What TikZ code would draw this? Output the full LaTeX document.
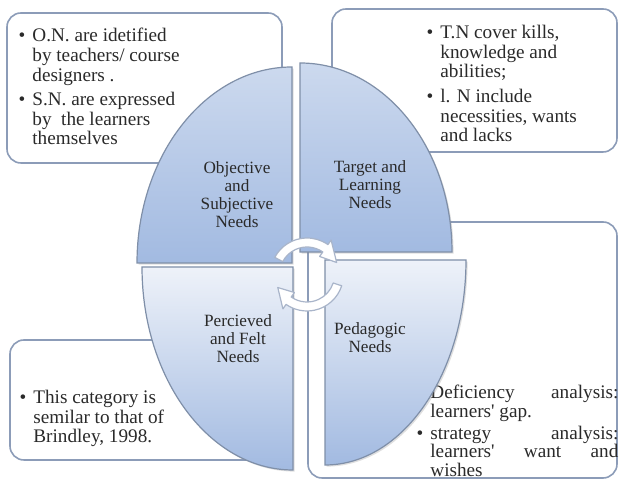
\documentclass[tikz,border=0pt]{standalone}
\usepackage{fontspec}
\setmainfont{Liberation Serif}[Ligatures=TeXOff]
\usetikzlibrary{calc}
\usetikzlibrary{shadows}
\definecolor{boxline}{HTML}{8C9CB8}
\definecolor{pieline}{HTML}{7F8FA8}
\definecolor{pietop}{HTML}{CCD9EE}
\definecolor{piebottom}{HTML}{A2BAE1}
\definecolor{pielight}{HTML}{EEF2F9}
\definecolor{arrowline}{HTML}{A9B5CA}
\definecolor{txt}{HTML}{2A2A2A}
\newcommand{\bpoint}{\leavevmode\llap{\textbullet\hspace{3.5pt}}}

\begin{document}
\begin{tikzpicture}[x=0.5pt,y=0.5pt]
\tikzstyle{notebox}=[draw=boxline, line width=0.8pt, rounded corners=7pt, fill=white]
\tikzstyle{notetext}=[inner sep=0pt, anchor=north west, align=left, text=txt, font=\fontsize{9.6}{9.8}\selectfont]
\tikzstyle{piece}=[draw=pieline, line width=0.6pt, drop shadow={shadow xshift=0.8pt, shadow yshift=-0.8pt, opacity=0.25}]
\tikzstyle{pietext}=[align=center, text=txt, font=\fontsize{8.6}{9}\selectfont]
\tikzstyle{cycarrow}=[draw=arrowline, fill=white, line width=0.6pt, line join=round]
\useasboundingbox (0,0) rectangle (620,480);
\draw [notebox] (7,317) rectangle (282,467);
\draw [notebox] (332,328) rectangle (617,471);
\draw [notebox] (10,20) rectangle (285,140);
\draw [notebox] (308,2) rectangle (617,258);
\node (onote) [notetext] at (32,452) {\bpoint O.N. are idetified\\ by teachers/ course\\ designers .\\[2.5pt] \bpoint S.N. are expressed\\ by\ \ the learners\\ themselves};
\node (tnote) [notetext] at (440,455) {\bpoint T.N cover kills,\\ knowledge and\\ abilities;\\[2.5pt] \bpoint l. N include\\ necessities, wants\\ and lacks};
\node (fnote) [notetext] at (33,90) {\bpoint This category is\\ semilar to that of\\ Brindley, 1998.};
\node (pnote) [notetext, font=\fontsize{9.6}{9.3}\selectfont] at (430,95) {\bpoint\makebox[94pt][s]{Deficiency analysis:}\\ learners' gap.\\[1.5pt] \bpoint\makebox[94pt][s]{strategy analysis:}\\ \makebox[94pt][s]{learners' want and}\\ wishes};
\path [piece, top color=pietop, bottom color=piebottom] (292,217) -- (137,217) arc[start angle=180, end angle=90, x radius=155, y radius=196] -- cycle;
\path [piece, top color=pietop, bottom color=piebottom] (300,228) -- (300,417) arc[start angle=90, end angle=0, x radius=152, y radius=189] -- cycle;
\path [piece, top color=pielight, bottom color=piebottom] (293,213) -- (142,213) arc[start angle=180, end angle=270, x radius=151, y radius=203] -- cycle;
\path [piece, top color=pielight, bottom color=piebottom] (325,220) -- (466,220) arc[start angle=0, end angle=-90, x radius=141, y radius=205] -- cycle;
\node (objn) [pietext] at (237,285) {Objective\\ and\\ Subjective\\ Needs};
\node (targn) [pietext] at (370,295) {Target and\\ Learning\\ Needs};
\node (percn) [pietext] at (238,141) {Percieved\\ and Felt\\ Needs};
\node (pedn) [pietext] at (370,142) {Pedagogic\\ Needs};
\begin{scope}[shift={(307,205.5)}]
\draw [cycarrow] (152:36.5) arc[start angle=152, end angle=55, radius=36.5] -- (55:42) -- (22:32) -- (55:22) -- (55:27.5) arc[start angle=55, end angle=152, radius=27.5] -- cycle;
\draw [cycarrow] (-18:36.5) arc[start angle=-18, end angle=-125, radius=36.5] -- (-125:42) -- (-156:32) -- (-125:22) -- (-125:27.5) arc[start angle=-125, end angle=-18, radius=27.5] -- cycle;
\end{scope}
\end{tikzpicture}
\end{document}
